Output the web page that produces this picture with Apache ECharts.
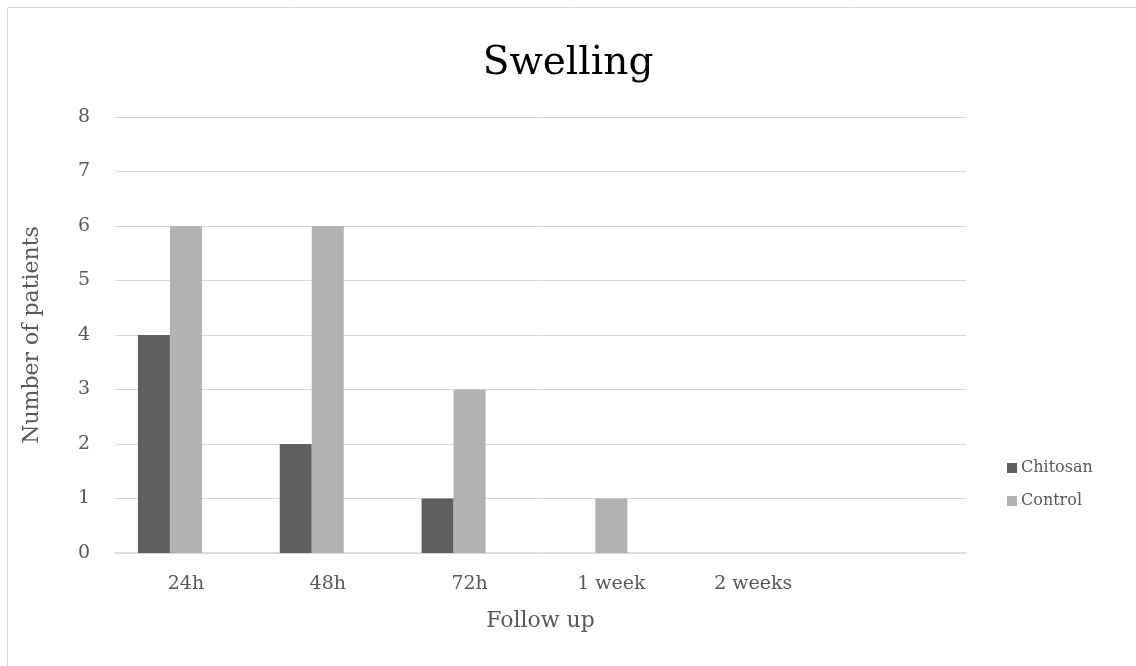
<!DOCTYPE html>
<html>
<head>
<meta charset="utf-8">
<style>
  html, body { margin: 0; padding: 0; background: #ffffff; }
  #chart { width: 1136px; height: 666px; }
</style>
<script src="https://cdn.jsdelivr.net/npm/echarts@6/dist/echarts.min.js"></script>
</head>
<body>
<div id="chart"></div>
<script>
// Follow-up time points (the last slot is an empty category)
const categories = ['24h', '48h', '72h', '1 week', '2 weeks', ''];
// Number of patients with swelling per group
const chitosan = [4, 2, 1, 0, 0, null];
const control = [6, 6, 3, 1, 0, null];
// Third, empty series slot of the cluster
const emptySlot = [null, null, null, null, null, null];
const yTicks = { min: 0, max: 8, step: 1 };

const FONT = '"DejaVu Serif", "Liberation Serif", serif';
const TEXT = '#595959';
const GRID_LINE = '#d9d9d9';

const chart = echarts.init(document.getElementById('chart'), null, { renderer: 'canvas' });

chart.setOption({
  animation: false,
  backgroundColor: '#ffffff',
  title: {
    text: 'Swelling',
    left: 'center',
    top: 39,
    textStyle: { fontFamily: FONT, fontSize: 39, fontWeight: 'normal', color: '#000000' }
  },
  legend: {
    orient: 'vertical',
    left: 1002,
    top: 455,
    itemWidth: 10,
    itemHeight: 10,
    itemGap: 17,
    icon: 'rect',
    data: ['Chitosan', 'Control'],
    textStyle: { fontFamily: FONT, fontSize: 16, color: TEXT, padding: [0, 0, 0, -1] }
  },
  graphic: [{
    type: 'rect',
    shape: { x: 7.5, y: 7.5, width: 1140, height: 680 },
    style: { fill: 'none', stroke: '#d9d9d9', lineWidth: 1 },
    silent: true
  }],
  grid: { left: 115, right: 170, top: 117, bottom: 113 },
  xAxis: {
    type: 'category',
    data: categories,
    name: 'Follow up',
    nameLocation: 'middle',
    nameGap: 57,
    nameTextStyle: { fontFamily: FONT, fontSize: 22, color: TEXT },
    axisLine: { lineStyle: { color: GRID_LINE, width: 1.5 } },
    axisTick: { show: false },
    axisLabel: { fontFamily: FONT, fontSize: 19, color: TEXT, margin: 22 }
  },
  yAxis: {
    type: 'value',
    min: yTicks.min,
    max: yTicks.max,
    interval: yTicks.step,
    name: 'Number of patients',
    nameLocation: 'middle',
    nameGap: 72,
    nameTextStyle: { fontFamily: FONT, fontSize: 22, color: TEXT },
    axisLine: { show: false },
    axisTick: { show: false },
    axisLabel: { fontFamily: FONT, fontSize: 19, color: TEXT, margin: 25 },
    splitLine: { lineStyle: { color: GRID_LINE, width: 1 } }
  },
  series: [
    {
      name: 'Chitosan', type: 'bar', data: chitosan, barWidth: 32, barGap: '0%',
      itemStyle: { color: '#5f5f5f' }
    },
    {
      name: 'Control', type: 'bar', data: control, barWidth: 32, barGap: '0%',
      itemStyle: { color: '#b2b2b2' }
    },
    {
      name: 'blank', type: 'bar', data: emptySlot, barWidth: 32, barGap: '0%',
      itemStyle: { color: '#ffffff' }
    }
  ]
});
</script>
</body>
</html>
